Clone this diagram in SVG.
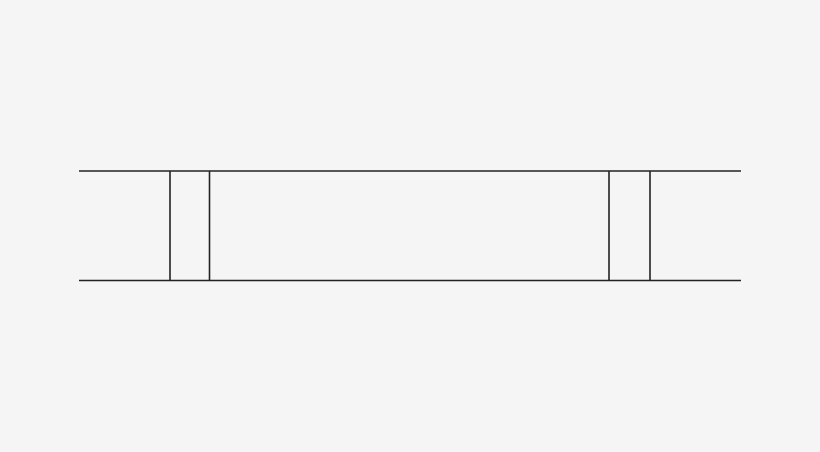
<svg xmlns="http://www.w3.org/2000/svg" width="820" height="452" viewBox="0 0 820 452">
<style>
.ln{stroke:#222;stroke-width:1.6;fill:none}
</style>
<rect width="820" height="452" fill="#f5f5f5"/>
<g id="connectors">
<line class="ln" x1="79" y1="171" x2="741" y2="171"/>
<line class="ln" x1="79" y1="280.5" x2="741" y2="280.5"/>
<line class="ln" x1="170" y1="171" x2="170" y2="280.5"/>
<line class="ln" x1="209.5" y1="171" x2="209.5" y2="280.5"/>
<line class="ln" x1="609" y1="171" x2="609" y2="280.5"/>
<line class="ln" x1="650" y1="171" x2="650" y2="280.5"/>
</g>
</svg>
